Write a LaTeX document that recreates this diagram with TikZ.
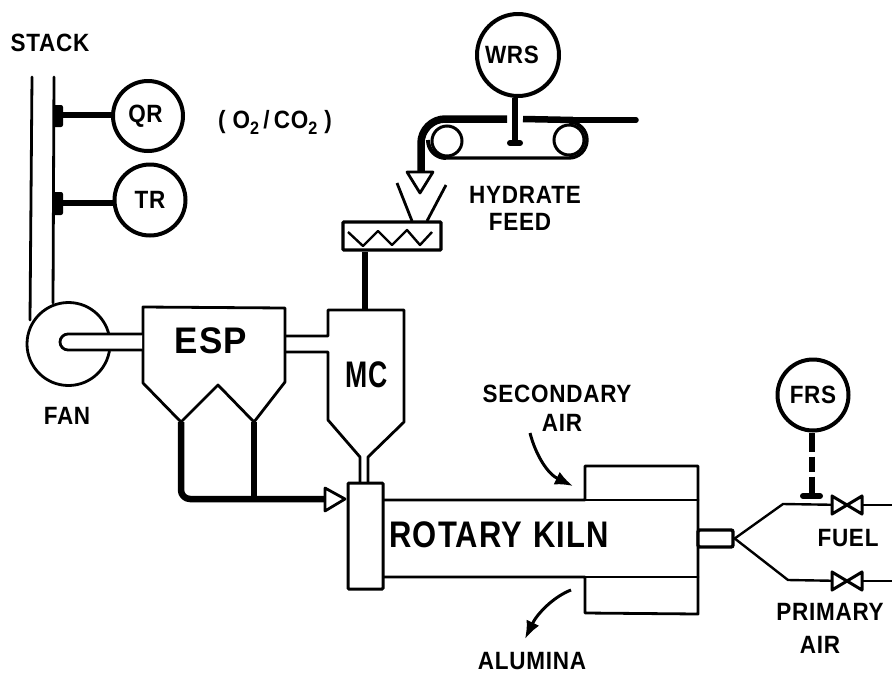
\documentclass[tikz,border=0pt]{standalone}
\usepackage{fontspec}
\setmainfont[BoldFont={Liberation Sans Bold},LetterSpace=3,FakeStretch=0.9]{Liberation Sans}
\usetikzlibrary{arrows.meta}
\newcommand{\nar}[2]{\scalebox{#1}[1]{#2}}
\newcommand{\subtwo}{\raisebox{-6pt}{\fontsize{18}{18}\selectfont 2}}
\tikzset{
  base/.style={line join=round,line cap=round,line width=2.8pt},
  instr/.style={circle,draw,line width=4pt,inner sep=0pt,fill=white,font=\fontsize{25}{25}\selectfont\bfseries},
  thin line/.style={line width=2.4pt,line join=round,line cap=round},
  signal/.style={line width=6pt},
  thick pipe/.style={line width=6.5pt,line join=round},
  lab/.style={inner sep=0pt,align=center,font=\fontsize{25}{27}\selectfont\bfseries},
  biglab/.style={inner sep=0pt,font=\fontsize{37}{37}\selectfont\bfseries},
  pulley/.style={circle,draw,line width=3pt,inner sep=0pt,minimum size=30pt},
  opentip/.style={draw,line width=2.8pt,line join=round,fill=white},
  valve/.style={draw,line width=3pt,line join=round,fill=white},
  curvearrow/.style={line width=3pt,-{Latex[length=18pt,width=14pt]}}
}
\begin{document}
\begin{tikzpicture}[x=1pt,y=-1pt]
\useasboundingbox (0,0) rectangle (892,673);
% anchors
\coordinate (stackLtop) at (32,77);
\coordinate (stackLbot) at (30,320);
\coordinate (stackRtop) at (54,77);
\coordinate (stackRbot) at (53,303);
\coordinate (qrTap) at (58,115);
\coordinate (trTap) at (58,203);
% stack
\draw[base] (stackLtop) -- (stackLbot);
\draw[base] (stackRtop) -- (stackRbot);
% fan
\node[circle,draw,line width=2.8pt,fill=white,inner sep=0pt,minimum size=83pt] (fan) at (68.5,344) {};
% instruments
\node[instr,minimum size=70pt] (qr) at (148,116) {QR\hspace{5pt}\null};
\node[instr,minimum size=71pt] (tr) at (150,200) {TR};
\draw[signal] (qrTap) -- (qr.west |- qrTap);
\draw[signal] (trTap) -- (tr.west |- trTap);
\fill[rounded corners=2pt] (53,105) rectangle (63,127);
\fill[rounded corners=2pt] (53,192) rectangle (63,215);
\node[lab] (gas) at (275,122) {( O\subtwo\,/\,CO\subtwo\ )};
\node[lab] (stacktxt) at (50,43) {STACK};
\node[lab] (fantxt) at (67,416) {FAN};
% ESP
\draw[base,fill=white] (143,307) -- (285,308) -- (285,382) -- (254,422) -- (218,385) -- (181,422) -- (143,383) -- cycle;
\node[biglab] (esp) at (211,341) {\nar{1.05}{ESP}};
% duct fan to ESP
\draw[base,fill=white] (142,334) -- (68,334) .. controls (63.6,334) and (60,337.6) .. (60,342) .. controls (60,346.4) and (63.6,350) .. (68,350) -- (142,350);
% MC
\draw[base] (286,336) -- (328,336) -- (328,310) -- (404,310) -- (404,422) -- (368,457) -- (368,483);
\draw[base] (286,352) -- (328,352) -- (328,420) -- (360,457) -- (360,483);
\node[biglab] (mc) at (367,375) {\nar{0.8}{MC}};
% hopper discharge
\coordinate (hopA) at (181,422);
\coordinate (hopB) at (254,422);
\coordinate (pipeEnd) at (325,499);
\draw[thick pipe,rounded corners=9pt] (hopA) -- (181,499) -- (pipeEnd);
\draw[thick pipe] (hopB) -- (254,499);
\draw[opentip] (325,488) -- (345,499) -- (325,511) -- cycle;
% Kiln
\draw[base] (383,500) -- (585,500) -- (585,466) -- (698,466) -- (698,614) -- (585,613) -- (585,577) -- (383,577);
\draw[base] (585,500) -- (698,500);
\draw[base] (585,577) -- (698,577);
\node[draw,line width=3pt,fill=white,inner sep=0pt,minimum width=35pt,minimum height=106pt,rounded corners=1pt] (endbox) at (365.5,536) {};
\node[biglab] (kiln) at (499,535) {\nar{0.93}{ROTARY\hspace{12pt}KILN}};
% Burner
\node[draw,line width=3.4pt,fill=white,inner sep=0pt,minimum width=35pt,minimum height=17pt,rounded corners=2pt] (burner) at (715.5,538.5) {};
% fuel lines
\coordinate (fuelBend) at (783,504);
\coordinate (airBend) at (788,580);
\node[inner sep=0pt,minimum size=0pt] (vf) at (847,505) {};
\node[inner sep=0pt,minimum size=0pt] (va) at (847,581) {};
\coordinate (fuelEnd) at (892,505);
\coordinate (airEnd) at (892,581);
\draw[thin line] (burner.east) -- (fuelBend) -- (vf);
\draw[thin line] (burner.east) -- (airBend) -- (va);
\draw[thin line] (vf) -- (fuelEnd);
\draw[thin line] (va) -- (airEnd);
\draw[valve] (832,496) -- (862,514) -- (862,496) -- (832,514) -- cycle;
\draw[valve] (832,572) -- (862,590) -- (862,572) -- (832,590) -- cycle;
% FRS
\node[instr,minimum size=71pt] (frs) at (813,395) {FRS};
\coordinate (frsFoot) at (812,495);
\draw[signal,dash pattern=on 19pt off 5pt on 15pt off 5pt on 30pt off 100pt] (frs.south -| frsFoot) -- (frsFoot);
\draw[line width=6pt,line cap=round] (803,496) -- (820,496);
\node[lab] (fuel) at (848,538) {FUEL};
\node[lab] (primary) at (830,612) {PRIMARY};
\node[lab] (air2) at (820,645) {AIR};
% Arrows
\coordinate (secStart) at (530,433);
\coordinate (secEnd) at (573,486);
\coordinate (aluStart) at (571,590);
\coordinate (aluEnd) at (525,639);
\draw[curvearrow] (secStart) .. controls (536,456) and (548,474) .. (secEnd);
\draw[curvearrow] (aluStart) .. controls (553,597) and (537,614) .. (aluEnd);
\node[lab] (sec) at (557,394) {SECONDARY};
\node[lab] (air1) at (562,423) {AIR};
\node[lab] (alu) at (532,661) {ALUMINA};
% Conveyor
\node[pulley] (pl) at (447,141) {};
\node[pulley] (pr) at (569,140) {};
\draw[line width=3.4pt] (446,158) -- (569,158) .. controls (579,158) and (587,150) .. (587,140) .. controls (587,130) and (579,122) .. (569,122);
\draw[line width=4pt] (446,158) .. controls (436,158) and (428,150) .. (428,140);
\node[instr,minimum size=82pt] (wrs) at (518,55) {WRS\hspace{12pt}\null};
\coordinate (belt) at (515,143);
\draw[line width=6pt] (wrs.south -| belt) -- (belt);
\draw[line width=6pt,line cap=round] (510,143) -- (520,143);
\coordinate (dropEnd) at (421,172);
\draw[line width=7.5pt,line join=round] (dropEnd) -- (421,143) .. controls (421,130) and (432,119) .. (445,119) -- (507,119);
\draw[line width=6.5pt] (523,119) -- (573,120);
\draw[line width=5.5pt,line cap=round] (573,120) -- (636,120);
\draw[opentip] (407,172) -- (433,172) -- (420,193) -- cycle;
% Feed hopper
\node[draw,line width=3.4pt,inner sep=0pt,minimum width=98pt,minimum height=28pt,rounded corners=1pt] (feeder) at (392,236) {};
\coordinate (hl) at (397,183);
\coordinate (hr) at (446,185);
\draw[line width=2.8pt] (hl) -- (412,221);
\draw[line width=2.8pt] (hr) -- (427,221);
\draw[line width=2.4pt,line join=round] (348,232) -- (363,246) -- (378,231) -- (392,245) -- (407,230) -- (420,245) -- (432,232);
\draw[line width=6.5pt] (feeder.south -| 365,0) -- (365,310);
\node[lab] (hyd) at (525,195) {HYDRATE};
\node[lab] (feed) at (520,222) {FEED};
\end{tikzpicture}
\end{document}
